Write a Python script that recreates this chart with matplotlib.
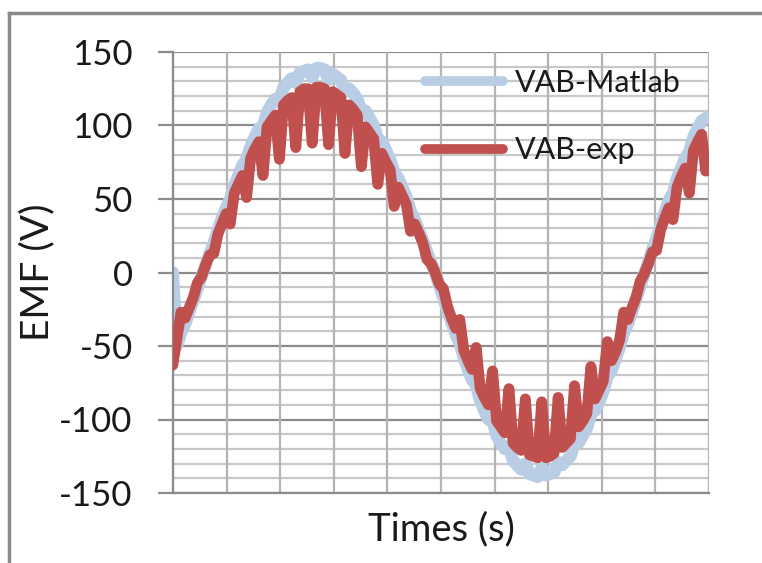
import numpy as np
import matplotlib
matplotlib.use("Agg")
import matplotlib.pyplot as plt
from matplotlib.lines import Line2D

# ---- data (samples are equally spaced in time) ----
vab_matlab = [
    0, -50, -41, -35, -27, -19, -11, -3, 5, 13,
    20, 29, 37, 44, 50, 59, 66, 73, 77, 86,
    92, 98, 99, 109, 114, 118, 117, 126, 129, 132,
    129, 136, 137, 138, 133, 139, 139, 138, 131, 135,
    133, 131, 123, 125, 122, 118, 110, 110, 105, 100,
    91, 89, 83, 77, 68, 64, 58, 51, 42, 36,
    29, 22, 14, 7, 0, -9, -17, -26, -34, -42,
    -48, -58, -66, -73, -77, -87, -94, -100, -101, -111,
    -116, -120, -119, -128, -131, -134, -130, -137, -138, -139,
    -133, -138, -137, -136, -129, -131, -128, -125, -116, -116,
    -111, -106, -96, -94, -88, -81, -71, -67, -59, -51,
    -41, -35, -27, -18, -10, -1, 7, 16, 23, 32,
    41, 49, 54, 64, 71, 78, 82, 92, 98, 103,
    105,
]

vab_exp = [
    -63, -45, -27, -31, -24, -17, -7, -3, 5, 12,
    13, 26, 33, 40, 33, 54, 60, 66, 51, 78,
    84, 89, 66, 99, 103, 107, 77, 114, 117, 119,
    85, 123, 125, 125, 88, 126, 126, 125, 87, 123,
    121, 119, 81, 114, 111, 107, 72, 99, 95, 91,
    60, 81, 75, 70, 45, 58, 52, 46, 28, 33,
    27, 20, 9, 6, 0, -8, -11, -23, -31, -38,
    -32, -53, -60, -66, -51, -79, -85, -90, -67, -101,
    -105, -109, -79, -116, -119, -121, -86, -124, -125, -126,
    -88, -126, -125, -123, -85, -119, -116, -113, -77, -105,
    -101, -96, -64, -86, -80, -74, -47, -60, -54, -46,
    -27, -32, -24, -17, -6, -1, 6, 14, 15, 29,
    37, 44, 36, 58, 65, 71, 54, 83, 89, 94,
    69,
]

series_labels = ["VAB-Matlab", "VAB-exp"]
y_ticks = [-150, -100, -50, 0, 50, 100, 150]
x_label = "Times (s)"
y_label = "EMF (V)"

# ---- style ----
plt.rcParams['font.family'] = ['Lato', 'DejaVu Sans']
c_matlab = "#b9cde5"
c_exp = "#c0504d"
grid_minor = "#c8c8c8"
grid_major = "#8c8c8c"
txt = "#1a1a1a"

W, H = 762, 563
fig = plt.figure(figsize=(W / 100, H / 100), dpi=100)
fig.patch.set_facecolor("white")

# outer chart frame (top and left visible)
fig.add_artist(Line2D([9 / W, 1.0], [1 - 13 / H, 1 - 13 / H], color="#8a8a8a", lw=2.5,
                      transform=fig.transFigure))
fig.add_artist(Line2D([9 / W, 9 / W], [0.0, 1 - 13 / H], color="#8a8a8a", lw=2.5,
                      transform=fig.transFigure))

ax = fig.add_axes([173 / W, 1 - 493 / H, (709 - 173) / W, (493 - 52) / H])

n = len(vab_exp)
x = np.arange(n)
x0, x1 = 0.05, 130.8
ax.set_xlim(x0, x1)
ax.set_ylim(-150, 150)

# grid
for v in range(-150, 151, 10):
    if v % 50 == 0:
        continue
    ax.axhline(v, color=grid_minor, lw=1.6, zorder=0)
for v in y_ticks:
    ax.axhline(v, color=grid_major, lw=1.6, zorder=0.5)
for xv in np.linspace(x0, x1, 11):
    ax.axvline(xv, color="#b4b4b4", lw=1.6, zorder=0.5)

ax.plot(x, vab_matlab, color=c_matlab, lw=9.0, solid_joinstyle="round",
        solid_capstyle="round", zorder=2, label=series_labels[0])
ax.plot(x, vab_exp, color=c_exp, lw=7.8, solid_joinstyle="round",
        solid_capstyle="round", zorder=3, label=series_labels[1])

for s in ["top", "right"]:
    ax.spines[s].set_visible(False)
for s in ["left", "bottom"]:
    ax.spines[s].set_color(grid_major)
    ax.spines[s].set_linewidth(1.6)

ax.set_yticks(y_ticks)
ax.set_yticklabels([str(v) for v in y_ticks])
ax.set_xticks([])
ax.tick_params(axis="y", length=11, width=1.6, color=grid_major, labelsize=25,
               labelcolor=txt, pad=18)

ax.set_xlabel(x_label, fontsize=27.5, color=txt, labelpad=13)
ax.set_ylabel(y_label, fontsize=28, color=txt, labelpad=3)

leg = ax.legend(loc="upper left", bbox_to_anchor=(0.470, 0.962), frameon=False,
                fontsize=22, handlelength=2.55, handletextpad=0.4, labelspacing=1.3,
                borderaxespad=0, borderpad=0)
for t in leg.get_texts():
    t.set_color(txt)
for h in leg.legend_handles:
    h.set_linewidth(7)
    h.set_solid_capstyle("round")

fig.savefig("out.png", dpi=100, facecolor="white")
